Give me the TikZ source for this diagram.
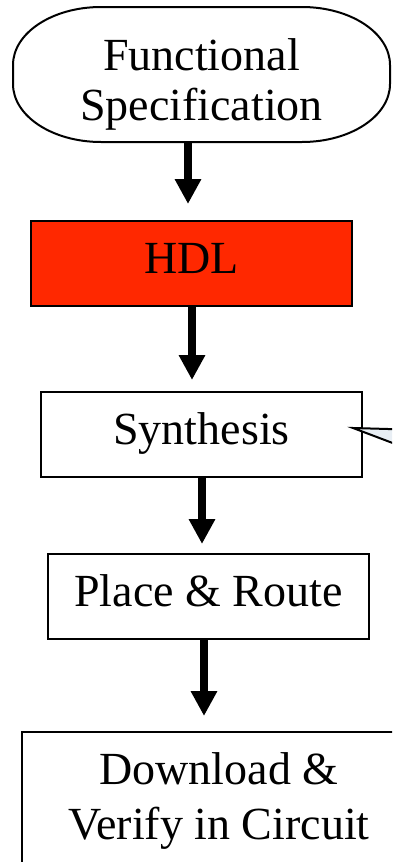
\documentclass[tikz,border=0pt]{standalone}
\usepackage{fontspec}
\setmainfont{Liberation Serif}
\usepackage{tikz}
\usetikzlibrary{arrows.meta, positioning}
\definecolor{hdlred}{RGB}{255,40,0}
\definecolor{calloutfill}{RGB}{232,238,244}

\begin{document}
\begin{tikzpicture}[x=1pt,y=1pt,on grid,
    box/.style={draw,line width=2pt,minimum width=321pt,minimum height=85pt,align=center,
        font=\fontsize{46}{53}\selectfont},
    oneline/.style={box,text height=32pt,text depth=12pt},
    flow/.style={line width=8pt,-{Triangle[width=25pt,length=25pt]}}]
   \useasboundingbox (0,0) rectangle (392,-862);
   \clip (0,0) rectangle (392,-862);
   \node[box,draw=none,font=\fontsize{46}{50}\selectfont] (spec) at (201.5,-84.3) {Functional\\Specification};
   \node[oneline,fill=hdlred] (hdl) at (191.5,-263.5) {HDL};
   \node[oneline] (syn) [below=171pt of hdl,xshift=10pt] {Synthesis};
   \node[oneline] (place) [below=162pt of syn,xshift=7pt] {Place \& Route};
   \node[box,minimum width=394pt,minimum height=138pt,font=\fontsize{46}{55}\selectfont] (down) [below=204.5pt of place,xshift=10.5pt] {Download \&\\Verify in Circuit};
   % rounded outline of the specification
   \coordinate (specnw) at ([shift={(-188.5pt,77.3pt)}]spec.center);
   \coordinate (specbot) at ([shift={(-13.5pt,-57.7pt)}]spec.center);
   \draw[line width=2pt] (specnw) ++(88pt,0) -- ++(201pt,0)
      arc[start angle=90,end angle=0,x radius=88pt,y radius=58pt] -- ++(0,-19pt)
      arc[start angle=0,end angle=-90,x radius=88pt,y radius=58pt] -- ++(-201pt,0)
      arc[start angle=270,end angle=180,x radius=88pt,y radius=58pt] -- ++(0,19pt)
      arc[start angle=180,end angle=90,x radius=88pt,y radius=58pt] -- cycle;
   % callout pointing at synthesis
   \coordinate (note) at ([xshift=60pt,yshift=-20pt]syn.east);
   \draw[line width=2pt,fill=calloutfill] ([xshift=-10pt,yshift=6.5pt]syn.east) -- ([xshift=60pt,yshift=4.5pt]syn.east)
      -- (note) -- cycle;
   \draw[flow] (specbot) -- ([xshift=-3.5pt,yshift=16pt]hdl.north);
   \draw[flow] ([xshift=0.5pt]hdl.south) -- ([xshift=-9.5pt,yshift=11pt]syn.north);
   \draw[flow] ([xshift=0.5pt]syn.south) -- ([xshift=-6.5pt,yshift=9pt]place.north);
   \draw[flow] ([xshift=-4.5pt]place.south) -- ([xshift=-15pt,yshift=15pt]down.north);
\end{tikzpicture}
\end{document}
